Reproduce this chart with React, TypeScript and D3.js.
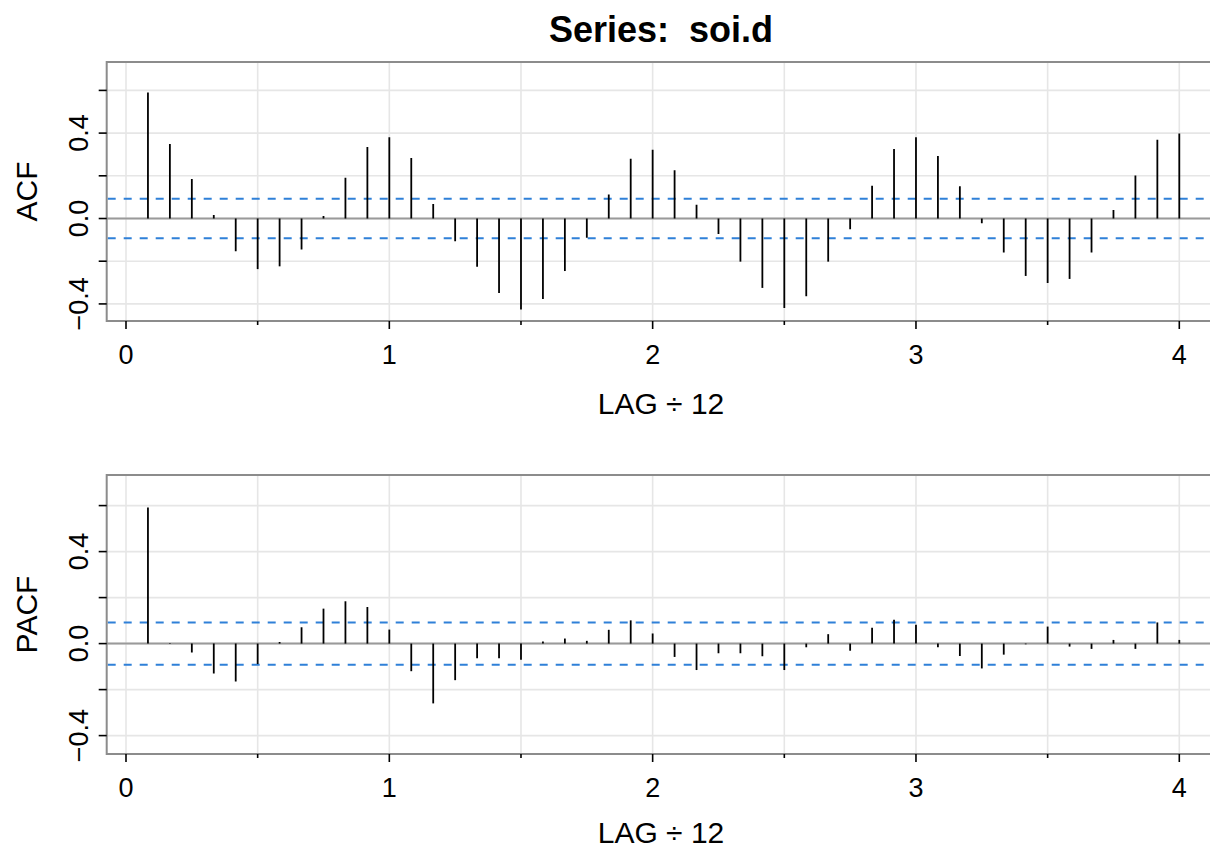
import { useRef, useEffect } from 'react';
import * as d3 from 'd3';

// sample ACF / PACF of soi.d, lags 1..48 (shown as LAG ÷ 12)
const acfValues = [
  0.590, 0.349, 0.185, 0.016, -0.153, -0.237, -0.224, -0.145, 0.012, 0.191, 0.335, 0.381,
  0.283, 0.068, -0.106, -0.226, -0.349, -0.426, -0.377, -0.246, -0.090, 0.112, 0.280, 0.322,
  0.226, 0.064, -0.072, -0.202, -0.325, -0.419, -0.364, -0.202, -0.050, 0.153, 0.325, 0.381,
  0.293, 0.151, -0.022, -0.159, -0.269, -0.302, -0.283, -0.159, 0.040, 0.201, 0.369, 0.398,
];
const pacfValues = [
  0.592, 0.003, -0.039, -0.130, -0.165, -0.089, 0.007, 0.071, 0.152, 0.184, 0.159, 0.061,
  -0.120, -0.260, -0.159, -0.064, -0.064, -0.070, 0.009, 0.022, 0.012, 0.060, 0.101, 0.044,
  -0.058, -0.115, -0.042, -0.042, -0.055, -0.115, -0.016, 0.041, -0.031, 0.069, 0.104, 0.082,
  -0.016, -0.054, -0.108, -0.048, -0.003, 0.074, -0.013, -0.023, 0.016, -0.023, 0.092, 0.016,
];
const confBound = 0.092;
const xTicks = [0, 1, 2, 3, 4];
const xGrid = [0, 0.5, 1, 1.5, 2, 2.5, 3, 3.5, 4];
const yTicks = [-0.4, -0.2, 0, 0.2, 0.4, 0.6];
const yLabels = [-0.4, 0, 0.4];
const titleText = 'Series:  soi.d';

const W = 1210;
const H = 849;
const FONT = '"Liberation Sans", Arial, Helvetica, sans-serif';

export default function App() {
  const svgRef = useRef<SVGSVGElement>(null);

  useEffect(() => {
    const svg = d3.select(svgRef.current);
    svg.selectAll('*').remove();

    const left = 106.7;
    const right = 1220.4;
    const x = d3.scaleLinear().domain([0, 4]).range([126, 1179.3]);

    svg.append('text').attr('x', 661).attr('y', 42)
      .attr('text-anchor', 'middle').attr('font-family', FONT)
      .attr('font-weight', 'bold').attr('font-size', 36).attr('fill', '#000')
      .style('white-space', 'pre')
      .text(titleText);

    const panel = (values: number[], label: string, top: number, bottom: number, labelGap: number) => {
      const y = d3.scaleLinear().domain([-0.48, 0.733]).range([bottom, top]);
      const g = svg.append('g');
      const clipId = `clip-${label}`;
      g.append('clipPath').attr('id', clipId)
        .append('rect').attr('x', left).attr('y', top).attr('width', right - left).attr('height', bottom - top);
      const inner = g.append('g').attr('clip-path', `url(#${clipId})`);

      // grid
      xGrid.forEach((v) => {
        inner.append('line').attr('x1', x(v)).attr('x2', x(v)).attr('y1', top).attr('y2', bottom)
          .attr('stroke', '#e6e6e6').attr('stroke-width', 1.6);
      });
      yTicks.forEach((v) => {
        inner.append('line').attr('x1', left).attr('x2', right).attr('y1', y(v)).attr('y2', y(v))
          .attr('stroke', '#e6e6e6').attr('stroke-width', 1.6);
      });

      // zero line
      inner.append('line').attr('x1', left).attr('x2', right).attr('y1', y(0)).attr('y2', y(0))
        .attr('stroke', '#9a9a9a').attr('stroke-width', 2);

      // confidence bounds
      [confBound, -confBound].forEach((v) => {
        inner.append('line').attr('x1', left).attr('x2', right).attr('y1', y(v)).attr('y2', y(v))
          .attr('stroke', '#2f80d8').attr('stroke-width', 2).attr('stroke-dasharray', '8,8')
          .attr('stroke-dashoffset', -1);
      });

      // spikes
      inner.selectAll('line.spike').data(values).enter().append('line')
        .attr('class', 'spike')
        .attr('x1', (_, i) => x((i + 1) / 12)).attr('x2', (_, i) => x((i + 1) / 12))
        .attr('y1', y(0)).attr('y2', (d) => y(d))
        .attr('stroke', '#000').attr('stroke-width', 1.8);

      // box
      g.append('rect').attr('x', left).attr('y', top).attr('width', right - left).attr('height', bottom - top)
        .attr('fill', 'none').attr('stroke', '#8c8c8c').attr('stroke-width', 2);

      // y ticks
      yTicks.forEach((v) => {
        g.append('line').attr('x1', left - 8).attr('x2', left).attr('y1', y(v)).attr('y2', y(v))
          .attr('stroke', '#000').attr('stroke-width', 1.6);
      });
      yLabels.forEach((v) => {
        g.append('text')
          .attr('transform', `translate(88,${y(v)}) rotate(-90)`)
          .attr('text-anchor', 'middle').attr('font-family', FONT).attr('font-size', 27).attr('fill', '#000')
          .text(d3.format('.1f')(v).replace('-', '\u2212'));
      });

      // x ticks
      xGrid.forEach((v) => {
        const major = Number.isInteger(v);
        g.append('line').attr('x1', x(v)).attr('x2', x(v)).attr('y1', bottom).attr('y2', bottom + (major ? 8 : 4))
          .attr('stroke', '#000').attr('stroke-width', 1.6);
      });
      xTicks.forEach((v) => {
        g.append('text').attr('x', x(v)).attr('y', bottom + 43)
          .attr('text-anchor', 'middle').attr('font-family', FONT).attr('font-size', 27).attr('fill', '#000')
          .text(String(v));
      });

      // axis labels
      g.append('text').attr('x', 661).attr('y', bottom + labelGap)
        .attr('text-anchor', 'middle').attr('font-family', FONT).attr('font-size', 30).attr('fill', '#000')
        .text('LAG \u00f7 12');
      g.append('text')
        .attr('transform', `translate(37,${(top + bottom) / 2}) rotate(-90)`)
        .attr('text-anchor', 'middle').attr('font-family', FONT).attr('font-size', 30).attr('fill', '#000')
        .text(label);
    };

    panel(acfValues, 'ACF', 62, 321, 93);
    panel(pacfValues, 'PACF', 475, 754, 89);
  }, []);

  return (
    <svg ref={svgRef} width={W} height={H} viewBox={`0 0 ${W} ${H}`}
      style={{ position: 'absolute', left: 0, top: 0, display: 'block', background: '#fff' }} />
  );
}
